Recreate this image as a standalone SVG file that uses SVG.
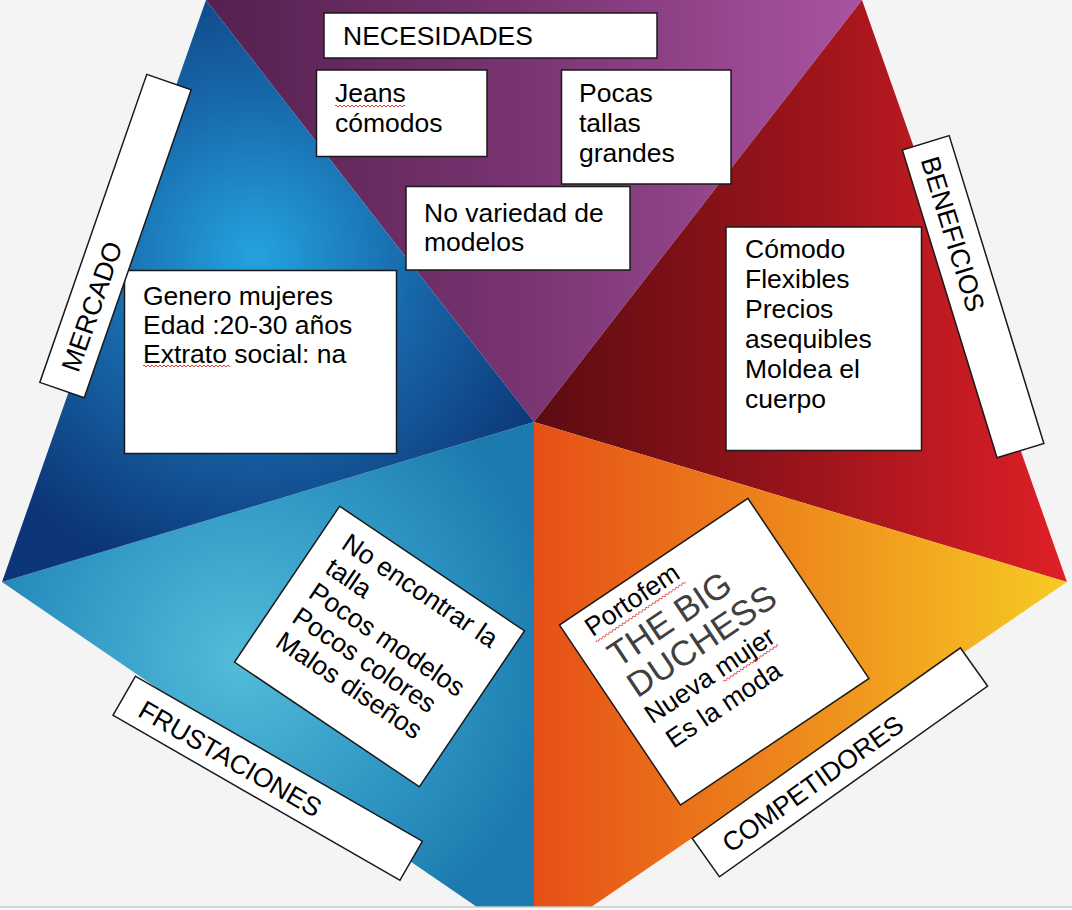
<svg xmlns="http://www.w3.org/2000/svg" width="1072" height="910" viewBox="0 0 1072 910">
<style>
.box{fill:#ffffff;stroke:#1a1a1a;stroke-width:1.5}
.t{font-family:"Liberation Sans",Arial,sans-serif;font-size:26.5px;fill:#000000}
.big{font-family:"Liberation Sans",Arial,sans-serif;font-size:35px;fill:#404040}
</style>
<defs>
<linearGradient id="gPurple" gradientUnits="userSpaceOnUse" x1="206" y1="0" x2="862" y2="0">
<stop offset="0" stop-color="#55204f"/>
<stop offset="0.5" stop-color="#7a3573"/>
<stop offset="1" stop-color="#aa53a1"/>
</linearGradient>
<linearGradient id="gRed" gradientUnits="userSpaceOnUse" x1="534" y1="0" x2="1067" y2="0">
<stop offset="0" stop-color="#5a0c12"/>
<stop offset="0.5" stop-color="#9a141b"/>
<stop offset="1" stop-color="#e01f27"/>
</linearGradient>
<linearGradient id="gOrange" gradientUnits="userSpaceOnUse" x1="534" y1="0" x2="1067" y2="0">
<stop offset="0" stop-color="#e64f17"/>
<stop offset="0.5" stop-color="#ee8a1c"/>
<stop offset="1" stop-color="#f7cb24"/>
</linearGradient>
<radialGradient id="gBlue" gradientUnits="userSpaceOnUse" cx="255" cy="255" r="330">
<stop offset="0" stop-color="#24a3de"/>
<stop offset="0.5" stop-color="#1766a8"/>
<stop offset="1" stop-color="#0c3677"/>
</radialGradient>
<radialGradient id="gCyan" gradientUnits="userSpaceOnUse" cx="240" cy="660" r="320">
<stop offset="0" stop-color="#52bcd9"/>
<stop offset="0.6" stop-color="#2e95c3"/>
<stop offset="1" stop-color="#1c7aae"/>
</radialGradient>
<pattern id="sq" width="4" height="4" patternUnits="userSpaceOnUse">
<path d="M0,1 L2,3 L4,1" fill="none" stroke="#e0261f" stroke-width="0.9"/>
</pattern>
</defs>

<rect x="0" y="0" width="1072" height="910" fill="#f4f4f4"/>

<g id="pentagon">
<polygon points="534,422 206,0 862,0" fill="url(#gPurple)"/>
<polygon points="534,422 862,0 1067,582" fill="url(#gRed)"/>
<polygon points="534,422 1067,582 534,946" fill="url(#gOrange)"/>
<polygon points="534,422 534,946 2,582" fill="url(#gCyan)"/>
<polygon points="534,422 2,582 206,0" fill="url(#gBlue)"/>
</g>
<rect x="0" y="907" width="1072" height="3" fill="#fafafa"/>
<line x1="0" y1="907" x2="1072" y2="907" stroke="#c8c8c8" stroke-width="1.5"/>

<g id="connectors"/>

<g id="necesidades">
<rect class="box" x="324" y="13" width="333" height="45"/>
<text class="t" x="343" y="45">NECESIDADES</text>
</g>

<g id="jeans">
<rect class="box" x="316.5" y="70" width="170.5" height="86.5"/>
<text class="t" x="335" y="102">Jeans</text>
<text class="t" x="335" y="132">cómodos</text>
<rect x="335" y="104" width="70" height="4" fill="url(#sq)"/>
</g>

<g id="pocas">
<rect class="box" x="561.5" y="70" width="169.5" height="114"/>
<text class="t" x="579" y="102">Pocas</text>
<text class="t" x="579" y="132">tallas</text>
<text class="t" x="579" y="162">grandes</text>
</g>

<g id="variedad">
<rect class="box" x="406" y="186.5" width="224" height="83.5"/>
<text class="t" x="424" y="222">No variedad de</text>
<text class="t" x="424" y="251">modelos</text>
</g>

<g id="mercado-contenido">
<rect class="box" x="124.5" y="270.5" width="272" height="183"/>
<text class="t" x="143" y="305">Genero mujeres</text>
<text class="t" x="143" y="334">Edad :20-30 años</text>
<text class="t" x="143" y="363">Extrato social: na</text>
<rect x="143" y="364" width="87" height="4" fill="url(#sq)"/>
</g>

<g id="beneficios-contenido">
<rect class="box" x="726" y="227" width="195.5" height="223.5"/>
<text class="t" x="745" y="258">Cómodo</text>
<text class="t" x="745" y="288">Flexibles</text>
<text class="t" x="745" y="318">Precios</text>
<text class="t" x="745" y="348">asequibles</text>
<text class="t" x="745" y="378">Moldea el</text>
<text class="t" x="745" y="408">cuerpo</text>
</g>

<g id="mercado" transform="translate(115.5,236.1) rotate(-70.85)">
<rect class="box" x="-163" y="-23.5" width="326" height="47"/>
<text class="t" x="-142" y="10">MERCADO</text>
</g>

<g id="beneficios" transform="translate(973.1,296.7) rotate(72.9)">
<rect class="box" x="-161" y="-24.5" width="322" height="49"/>
<text class="t" x="-146" y="10">BENEFICIOS</text>
</g>

<g id="frustaciones" transform="translate(267.7,778.3) rotate(29.9)">
<rect class="box" x="-165.5" y="-22.5" width="331" height="45"/>
<text class="t" x="-145" y="11">FRUSTACIONES</text>
</g>

<g id="competidores" transform="translate(839.9,762.3) rotate(-35.4)">
<rect class="box" x="-164.5" y="-23.5" width="329" height="47"/>
<text class="t" x="-142" y="11">COMPETIDORES</text>
</g>

<g id="frustaciones-contenido" transform="translate(379.5,646.5) rotate(34)">
<rect class="box" x="-111.5" y="-94" width="223" height="188"/>
<text class="t" x="-88" y="-60">No encontrar la</text>
<text class="t" x="-88" y="-30.5">talla</text>
<text class="t" x="-88" y="-1">Pocos modelos</text>
<text class="t" x="-88" y="28.5">Pocos colores</text>
<text class="t" x="-88" y="58">Malos diseños</text>
</g>

<g id="competidores-contenido" transform="translate(714.2,651.7) rotate(-33.9)">
<rect class="box" x="-113.5" y="-108.5" width="227" height="217"/>
<text class="t" x="-93" y="-80">Portofem</text>
<rect x="-93" y="-76" width="108" height="4" fill="url(#sq)"/>
<text class="big" x="-89" y="-40">THE BIG</text>
<text class="big" x="-90" y="-4">DUCHESS</text>
<text class="t" x="-92" y="26">Nueva mujer</text>
<rect x="-9" y="28" width="66" height="4" fill="url(#sq)"/>
<text class="t" x="-88" y="58">Es la moda</text>
</g>
</svg>
